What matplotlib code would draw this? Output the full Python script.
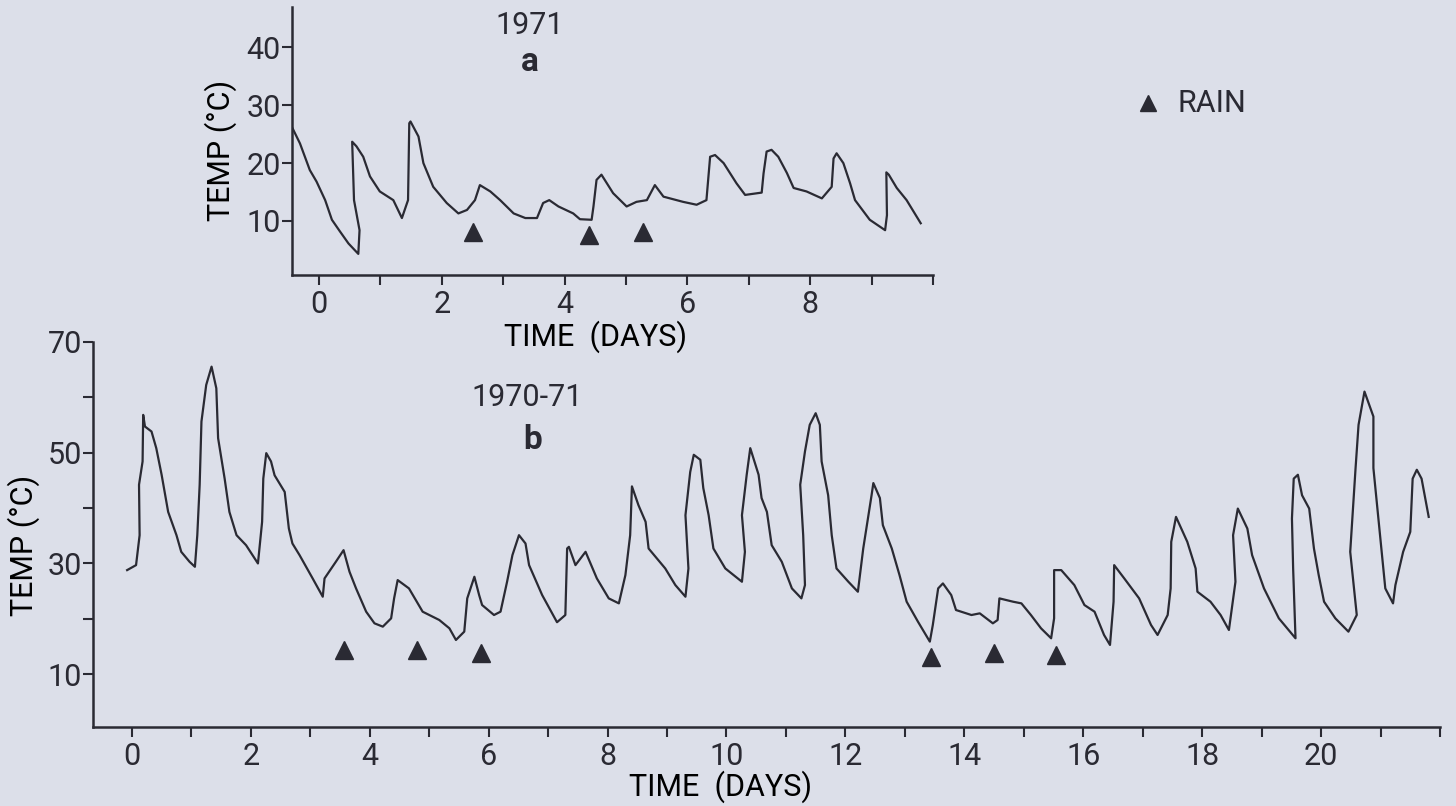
import matplotlib
matplotlib.use("Agg")
import matplotlib.pyplot as plt
from matplotlib.lines import Line2D

# ---------------- data ----------------
# panel a (1971)
a_day = [-0.43, -0.31, -0.15, -0.04, 0.10, 0.21, 0.34, 0.48, 0.64, 0.66,
         0.57, 0.54, 0.61, 0.72, 0.83, 0.99, 1.21, 1.35, 1.45, 1.47,
         1.49, 1.62, 1.70, 1.86, 2.08, 2.27, 2.41, 2.54, 2.62, 2.79,
         2.95, 3.17, 3.36, 3.55, 3.65, 3.75, 3.90, 4.14, 4.25, 4.44,
         4.47, 4.52, 4.60, 4.79, 5.01, 5.17, 5.34, 5.47, 5.61, 5.93,
         6.15, 6.31, 6.37, 6.45, 6.59, 6.80, 6.94, 7.21, 7.24, 7.29,
         7.37, 7.48, 7.62, 7.73, 7.94, 8.19, 8.35, 8.38, 8.43, 8.54,
         8.65, 8.73, 8.97, 9.22, 9.25, 9.24, 9.28, 9.41, 9.57, 9.80]
a_temp = [26.0, 23.4, 18.8, 16.8, 13.6, 10.2, 8.2, 6.1, 4.3, 8.4,
          13.6, 23.7, 22.9, 21.1, 17.7, 15.1, 13.6, 10.5, 13.6, 26.9,
          27.2, 24.6, 20.0, 15.9, 13.1, 11.3, 11.9, 13.6, 16.2, 15.1,
          13.6, 11.3, 10.5, 10.5, 13.1, 13.6, 12.5, 11.3, 10.3, 10.2,
          12.5, 17.1, 18.0, 14.8, 12.5, 13.3, 13.6, 16.2, 14.2, 13.3,
          12.8, 13.6, 21.1, 21.4, 20.0, 16.5, 14.5, 14.9, 18.2, 22.0,
          22.3, 21.1, 18.3, 15.7, 15.1, 13.9, 15.9, 20.8, 21.7, 20.0,
          16.5, 13.6, 10.2, 8.4, 11.0, 18.4, 18.0, 15.7, 13.6, 9.6]
a_rain_day = [2.50, 4.40, 5.27]
a_rain_temp = [8.15, 7.6, 8.15]

# panel b (1970-71)
b_day = [-0.08, 0.07, 0.13, 0.12, 0.18, 0.19, 0.22, 0.33, 0.41, 0.50,
         0.61, 0.75, 0.83, 0.97, 1.06, 1.10, 1.14, 1.17, 1.25, 1.34,
         1.42, 1.45, 1.56, 1.64, 1.76, 1.92, 2.12, 2.19, 2.21, 2.26,
         2.34, 2.40, 2.57, 2.64, 2.70, 2.82, 3.04, 3.21, 3.24, 3.43,
         3.56, 3.66, 3.77, 3.94, 4.08, 4.22, 4.36, 4.41, 4.47, 4.66,
         4.89, 5.17, 5.34, 5.45, 5.59, 5.64, 5.76, 5.84, 5.89, 6.09,
         6.20, 6.31, 6.40, 6.51, 6.62, 6.68, 6.90, 7.15, 7.29, 7.32,
         7.35, 7.46, 7.63, 7.82, 8.02, 8.19, 8.30, 8.38, 8.41, 8.52,
         8.64, 8.69, 8.97, 9.14, 9.31, 9.36, 9.31, 9.39, 9.45, 9.56,
         9.61, 9.70, 9.78, 9.98, 10.26, 10.31, 10.26, 10.34, 10.40, 10.54,
         10.59, 10.68, 10.76, 10.93, 11.10, 11.26, 11.32, 11.29, 11.24, 11.32,
         11.40, 11.50, 11.57, 11.60, 11.71, 11.77, 11.85, 12.05, 12.21, 12.30,
         12.44, 12.47, 12.58, 12.63, 12.78, 12.91, 13.03, 13.22, 13.42, 13.47,
         13.56, 13.64, 13.78, 13.86, 14.12, 14.26, 14.48, 14.56, 14.59, 14.82,
         14.96, 15.12, 15.29, 15.46, 15.51, 15.51, 15.63, 15.85, 16.02, 16.19,
         16.35, 16.45, 16.51, 16.52, 16.69, 16.94, 17.14, 17.25, 17.42, 17.47,
         17.48, 17.56, 17.75, 17.89, 17.92, 18.14, 18.31, 18.45, 18.56, 18.52,
         18.60, 18.76, 18.84, 19.04, 19.29, 19.57, 19.53, 19.51, 19.54, 19.61,
         19.68, 19.80, 19.88, 19.96, 20.05, 20.24, 20.46, 20.60, 20.49, 20.58,
         20.63, 20.73, 20.88, 20.88, 20.97, 21.08, 21.21, 21.25, 21.38, 21.50,
         21.54, 21.61, 21.69, 21.81]
b_temp = [28.8, 29.7, 35.1, 44.2, 48.4, 56.8, 54.7, 53.8, 50.8, 46.0,
          39.3, 35.1, 32.1, 30.3, 29.4, 35.1, 44.2, 55.6, 62.2, 65.5,
          61.6, 52.6, 45.3, 39.3, 35.1, 33.3, 30.0, 37.5, 45.3, 49.9,
          48.4, 45.9, 42.9, 36.3, 33.6, 31.5, 27.3, 24.0, 27.3, 30.3,
          32.4, 28.5, 25.5, 21.3, 19.2, 18.6, 20.1, 23.7, 27.0, 25.5,
          21.3, 19.8, 18.3, 16.2, 17.7, 23.7, 27.6, 24.3, 22.5, 20.7,
          21.3, 26.7, 31.5, 35.1, 33.6, 29.7, 24.3, 19.4, 20.7, 32.7,
          33.0, 29.7, 32.1, 27.3, 23.7, 22.8, 27.9, 35.1, 43.9, 40.5,
          37.5, 32.7, 29.1, 26.1, 24.0, 29.1, 38.7, 46.5, 49.6, 48.7,
          43.6, 38.7, 32.7, 29.1, 26.7, 32.1, 38.7, 46.0, 50.8, 46.0,
          41.8, 39.3, 33.3, 30.3, 25.5, 23.7, 26.1, 35.1, 44.2, 50.2,
          55.0, 57.1, 55.0, 48.4, 42.3, 35.1, 29.1, 26.7, 24.9, 32.7,
          42.3, 44.5, 41.8, 36.9, 32.7, 27.9, 23.1, 19.5, 15.9, 18.9,
          25.5, 26.4, 24.3, 21.6, 20.7, 21.0, 19.2, 19.8, 23.7, 23.1,
          22.8, 20.7, 18.3, 16.5, 20.1, 28.8, 28.8, 26.1, 22.5, 21.3,
          17.1, 15.3, 23.1, 29.7, 27.3, 23.7, 18.9, 17.1, 20.7, 25.5,
          33.9, 38.4, 33.9, 29.1, 24.9, 23.1, 20.7, 18.0, 26.7, 35.1,
          39.9, 36.3, 31.5, 25.5, 20.1, 16.5, 29.1, 38.1, 45.3, 46.0,
          42.3, 39.9, 32.7, 27.9, 23.1, 20.1, 17.7, 20.7, 32.1, 47.2,
          55.0, 61.0, 56.5, 47.2, 37.5, 25.5, 22.8, 26.1, 32.1, 35.7,
          45.3, 46.9, 45.3, 38.4]
b_rain_day = [3.56, 4.80, 5.87, 13.44, 14.50, 15.54]
b_rain_temp = [14.4, 14.4, 13.8, 13.2, 13.8, 13.5]

# ticks / labels
a_xticks = list(range(0, 11))
a_xticklabels = ['0', '', '2', '', '4', '', '6', '', '8', '', '']
a_yticks = [10, 20, 30, 40]
a_yticklabels = ['10', '20', '30', '40']
b_xticks = list(range(0, 23))
b_xticklabels = ['0', '', '2', '', '4', '', '6', '', '8', '', '10', '',
                 '12', '', '14', '', '16', '', '18', '', '20', '', '']
b_yticks = [10, 20, 30, 40, 50, 60, 70]
b_yticklabels = ['10', '', '30', '', '50', '', '70']

# ---------------- style ----------------
W, H = 1456, 806
BG = '#dcdfe9'
INK = '#2a2a33'
FS = 22
plt.rcParams['font.family'] = ['Roboto', 'DejaVu Sans']
plt.rcParams['font.weight'] = 'normal'
plt.rcParams['text.color'] = INK

fig = plt.figure(figsize=(W / 100, H / 100), dpi=100)
fig.patch.set_facecolor(BG)


def rect(x0, y0, x1, y1):
    return [x0 / W, 1 - y1 / H, (x1 - x0) / W, (y1 - y0) / H]


def style(ax):
    ax.set_facecolor('none')
    for s in ('top', 'right'):
        ax.spines[s].set_visible(False)
    for s in ('left', 'bottom'):
        ax.spines[s].set_color(INK)
        ax.spines[s].set_linewidth(1.8)
    ax.tick_params(axis='both', direction='out', length=7, width=1.5,
                   colors=INK, labelsize=FS)
    ax.tick_params(axis='y', pad=1)
    ax.tick_params(axis='x', pad=4)


ax_a = fig.add_axes(rect(292, 7, 933, 275))
ax_b = fig.add_axes(rect(93, 341.7, 1440, 727))
style(ax_a)
style(ax_b)

# panel a
ax_a.plot(a_day, a_temp, color=INK, lw=1.6, solid_joinstyle='round')
ax_a.plot(a_rain_day, a_rain_temp, ls='none', marker='^', ms=13, color=INK)
ax_a.set_xlim(-0.44, 10.0)
ax_a.set_ylim(0.65, 47.0)
ax_a.set_xticks(a_xticks)
ax_a.set_xticklabels(a_xticklabels)
ax_a.set_yticks(a_yticks)
ax_a.set_yticklabels(a_yticklabels)
ax_a.set_xlabel('TIME  (DAYS)', fontsize=FS)
ax_a.set_ylabel('TEMP (°C)', fontsize=FS)
ax_a.xaxis.set_label_coords(0.473, -0.170)
ax_a.yaxis.set_label_coords(-0.086, 0.466)

# panel b
ax_b.plot(b_day, b_temp, color=INK, lw=1.6, solid_joinstyle='round')
ax_b.plot(b_rain_day, b_rain_temp, ls='none', marker='^', ms=13, color=INK)
ax_b.set_xlim(-0.654, 22.0)
ax_b.set_ylim(0.5, 70)
ax_b.set_xticks(b_xticks)
ax_b.set_xticklabels(b_xticklabels)
ax_b.set_yticks(b_yticks)
ax_b.set_yticklabels(b_yticklabels)
ax_b.set_xlabel('TIME  (DAYS)', fontsize=FS)
ax_b.set_ylabel('TEMP (°C)', fontsize=FS)
ax_b.xaxis.set_label_coords(0.4655, -0.112)
ax_b.yaxis.set_label_coords(-0.039, 0.472)

# annotations
fig.text(530 / W, 1 - 25 / H, '1971', ha='center', va='center', fontsize=FS)
fig.text(530 / W, 1 - 62 / H, 'a', ha='center', va='center', fontsize=FS + 2,
         fontweight='bold')
fig.text(527 / W, 1 - 398 / H, '1970-71', ha='center', va='center', fontsize=FS)
fig.text(533 / W, 1 - 440 / H, 'b', ha='center', va='center', fontsize=FS + 2,
         fontweight='bold')

# legend
fig.add_artist(Line2D([1148 / W], [1 - 103 / H], transform=fig.transFigure,
                      ls='none', marker='^', ms=12, color=INK))
fig.text(1178 / W, 1 - 103 / H, 'RAIN', ha='left', va='center', fontsize=FS)

fig.savefig('out.png', dpi=100, facecolor=BG)
